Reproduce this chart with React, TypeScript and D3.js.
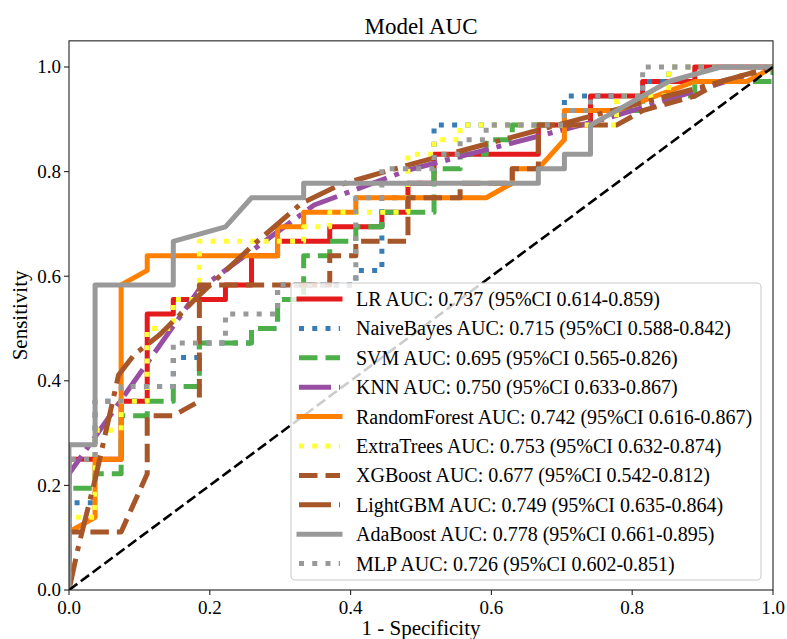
import * as d3 from "d3";

const WIDTH = 787;
const HEIGHT = 639;
const PLOT = { left: 69, right: 773, top: 40.85, bottom: 590 };
const FONT = "'Liberation Serif', 'Times New Roman', serif";

// ROC points as [false positives, true positives] counts (27 negatives, 36 positives)
const N_NEG = 27;
const N_POS = 36;

const MODELS = ["LR", "NaiveBayes", "SVM", "KNN", "RandomForest", "ExtraTrees", "XGBoost", "LightGBM", "AdaBoost", "MLP"];
const AUC = [0.737, 0.715, 0.695, 0.75, 0.742, 0.753, 0.677, 0.749, 0.778, 0.726];
const CI_LO = [0.614, 0.588, 0.565, 0.633, 0.616, 0.632, 0.542, 0.635, 0.661, 0.602];
const CI_HI = [0.859, 0.842, 0.826, 0.867, 0.867, 0.874, 0.812, 0.864, 0.895, 0.851];

const LR_ROC = [[0,0],[0,9],[2,9],[2,13],[3,13],[3,19],[4,19],[4,20],[6,20],[6,21],[7,21],[7,23],[8,23],[8,24],[10,24],[10,25],[12,25],[12,26],[13,26],[13,28],[14,28],[14,30],[18,30],[18,32],[20,32],[20,34],[22,34],[22,35],[24,35],[24,36],[27,36]];
const NB_ROC = [[0,0],[0,6],[1,6],[1,13],[3,13],[3,14],[4,14],[4,16],[5,16],[5,17],[7,17],[7,18],[8,18],[8,21],[11,21],[11,22],[12,22],[12,27],[13,27],[13,28],[14,28],[14,32],[19,32],[19,34],[22,34],[22,35],[23,35],[23,36],[27,36]];
const SVM_ROC = [[0,0],[0,7],[1,7],[1,8],[2,8],[2,12],[3,12],[3,13],[4,13],[4,14],[5,14],[5,17],[7,17],[7,18],[8,18],[8,20],[9,20],[9,23],[10,23],[10,24],[11,24],[11,25],[12,25],[12,26],[14,26],[14,29],[15,29],[15,30],[16,30],[16,31],[17,31],[17,32],[19,32],[19,33],[22,33],[22,34],[24,34],[24,35],[27,35],[27,36]];
const KNN_ROC = [[0,0],[0,8],[5,20.7],[9.4,26.5],[13,28.9],[20.7,32.5],[27,36]];
const RF_ROC = [[0,0],[0,4],[1,5],[1,9],[2,9],[2,21],[3,22],[3,23],[8,23],[8,25],[9,25],[9,26],[11,26],[11,27],[16,27],[17,28],[17,29],[18,29],[19,31],[19,33],[21,33],[24,35],[26,35],[27,36]];
const ET_ROC = [[0,0],[0,5],[1,5],[1,11],[2,11],[2,13],[3,13],[3,18],[4,18],[4,20],[5,20],[5,24],[9,24],[9,25],[10,25],[10,26],[13,26],[13,30],[14,30],[14,31],[15,31],[15,32],[21,32],[21,34],[23,34],[23,36],[27,36]];
const XGB_ROC = [[0,0],[0,4],[2,4],[3,8],[3,12],[4,12],[5,13],[5,21],[10,21],[10,23],[11,23],[11,24],[13,24],[13,27],[15,27],[15,28],[17,28],[17,29],[18,29],[18,32],[21,32],[22,33],[24,34],[25,35],[27,36]];
const LGBM_ROC = [[0,0],[0.35,2.9],[1,7.6],[1.9,14.8],[2.5,16.2],[3.5,17.6],[5,20.3],[7.1,23.8],[8.9,26.6],[10.4,27.9],[13.1,29.3],[18.3,31.8],[24.2,34.6],[27,36]];
const ADA_ROC = [[0,0],[0,10],[1,10],[1,21],[4,21],[4,24],[6,25],[7,27],[9,27],[9,28],[18,28],[18,29],[19,29],[19,30],[20,30],[20,32],[21,33],[23,35],[25,36],[27,36]];
const MLP_ROC = [[0,0],[0,9],[1,9],[1,13],[2,13],[2,14],[4,14],[4,17],[6,17],[6,19],[8,19],[8,21],[11,21],[11,27],[12,27],[12,29],[14,29],[14,30],[15,30],[15,31],[16,31],[16,32],[19,32],[19,33],[20,33],[20,34],[22,34],[22,36],[27,36]];

const CURVES = [LR_ROC, NB_ROC, SVM_ROC, KNN_ROC, RF_ROC, ET_ROC, XGB_ROC, LGBM_ROC, ADA_ROC, MLP_ROC];
const COLORS = ["#e41a1c", "#377eb8", "#4daf4a", "#984ea3", "#ff7f00", "#ffff33", "#a65628", "#a65628", "#999999", "#999999"];
const DASHES = ["", "5,8.25", "18.5,8", "32,8,5,8", "", "5,8.25", "18.5,8", "32,8,5,8", "", "5,8.25"];

const LINE_W = 5;

export default function App() {
  const xScale = d3.scaleLinear().domain([0, 1]).range([PLOT.left, PLOT.right]);
  const yScale = d3.scaleLinear().domain([0, 1.05]).range([PLOT.bottom, PLOT.top]);

  const line = d3
    .line<number[]>()
    .x((d) => xScale(d[0] / N_NEG))
    .y((d) => yScale(d[1] / N_POS));

  const ticks = [0, 0.2, 0.4, 0.6, 0.8, 1.0];
  const fmt = d3.format(".1f");

  // legend box
  const LEG = { left: 291, top: 283, right: 761, bottom: 580, row0: 299, pitch: 29.4 };

  return (
    <svg width={WIDTH} height={HEIGHT} style={{ position: "absolute", left: 0, top: 0 }} fontFamily={FONT}>
      <rect width={WIDTH} height={HEIGHT} fill="#fff" />
      <text x={421} y={34} textAnchor="middle" fontSize={23} fill="#000">Model AUC</text>

      <defs>
        <clipPath id="plotclip">
          <rect x={PLOT.left} y={PLOT.top} width={PLOT.right - PLOT.left} height={PLOT.bottom - PLOT.top} />
        </clipPath>
      </defs>

      <g clipPath="url(#plotclip)">
        {CURVES.map((c, i) => (
          <path
            key={MODELS[i]}
            d={line(c) || ""}
            fill="none"
            stroke={COLORS[i]}
            strokeWidth={LINE_W}
            strokeDasharray={DASHES[i] || undefined}
            strokeLinecap={DASHES[i] ? "butt" : "square"}
            strokeLinejoin="round"
          />
        ))}
        <line
          x1={xScale(0)} y1={yScale(0)} x2={xScale(1)} y2={yScale(1)}
          stroke="#000" strokeWidth={2.6} strokeDasharray="10.3,4.4"
        />
      </g>

      <rect
        x={PLOT.left} y={PLOT.top}
        width={PLOT.right - PLOT.left} height={PLOT.bottom - PLOT.top}
        fill="none" stroke="#222" strokeWidth={1.1}
      />

      {ticks.map((t) => (
        <g key={"x" + t}>
          <line x1={xScale(t)} x2={xScale(t)} y1={PLOT.bottom} y2={PLOT.bottom + 5} stroke="#222" strokeWidth={1.1} />
          <text x={xScale(t)} y={PLOT.bottom + 24} textAnchor="middle" fontSize={19}>{fmt(t)}</text>
        </g>
      ))}
      {ticks.map((t) => (
        <g key={"y" + t}>
          <line x1={PLOT.left - 5} x2={PLOT.left} y1={yScale(t)} y2={yScale(t)} stroke="#222" strokeWidth={1.1} />
          <text x={PLOT.left - 8} y={yScale(t) + 6.4} textAnchor="end" fontSize={19}>{fmt(t)}</text>
        </g>
      ))}

      <text x={421} y={635} textAnchor="middle" fontSize={21}>1 - Specificity</text>
      <text
        transform={`translate(27,${(PLOT.top + PLOT.bottom) / 2}) rotate(-90)`}
        textAnchor="middle" fontSize={21}
      >
        Sensitivity
      </text>

      <g>
        <rect
          x={LEG.left} y={LEG.top}
          width={LEG.right - LEG.left} height={LEG.bottom - LEG.top}
          rx={4} fill="#fff" fillOpacity={0.8} stroke="#ccc" strokeWidth={1.1}
        />
        {MODELS.map((m, i) => {
          const cy = LEG.row0 + i * LEG.pitch;
          return (
            <g key={"leg" + m}>
              <line
                x1={299} x2={340} y1={cy} y2={cy}
                stroke={COLORS[i]} strokeWidth={LINE_W}
                strokeDasharray={DASHES[i] || undefined}
                strokeLinecap={DASHES[i] ? "butt" : "square"}
              />
              <text x={356} y={cy + 7} fontSize={20}>
                {`${m} AUC: ${AUC[i].toFixed(3)} (95%CI ${CI_LO[i].toFixed(3)}-${CI_HI[i].toFixed(3)})`}
              </text>
            </g>
          );
        })}
      </g>
    </svg>
  );
}
